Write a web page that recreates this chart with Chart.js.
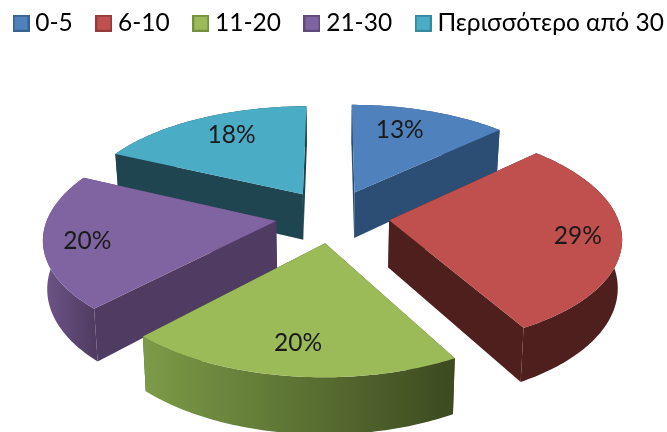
<!DOCTYPE html>
<html>
<head>
<meta charset="utf-8">
<style>
html,body{margin:0;padding:0;background:#fff;}
#box{width:667px;height:432px;}
</style>
<script src="https://cdn.jsdelivr.net/npm/chart.js@4/dist/chart.umd.min.js"></script>
</head>
<body>
<div id="box"><canvas id="c" width="667" height="432"></canvas></div>
<script>
// Chart content
const categories = ['0-5', '6-10', '11-20', '21-30', 'Περισσότερο από 30'];
const shares = [13, 29, 20, 20, 18];

// Colours of each slice: top face, legend border, radial walls, rim gradient
const topColors = ['#4f81bd', '#c0504d', '#9bbb59', '#8064a2', '#4bacc6'];
const edgeColors = ['#3a6291', '#943c3a', '#75903f', '#5f4a7a', '#358aa1'];
const wallColors = ['#2d4e74', '#4f1f1e', '#404f24', '#503c62', '#1f4650'];
const rimFrom = ['#2d4e74', '#4f1f1e', '#7c9b47', '#6e5589', '#1f4650'];
const rimTo = ['#2d4e74', '#4f1f1e', '#3c4a20', '#503c62', '#1f4650'];

// Pixel nudges for the percentage labels
const labelNudge = [[-15, 3], [8, 3], [0, 0], [-8, 4], [11, 1]];

// Perspective view of the exploded disc
const view = {cx: 332.5, cy: 216, radius: 228, explode: 57, distance: 1600, tilt: 0.466, depth: 47, baseScale: 0.985};
const FONT = '"Lato", "Open Sans", sans-serif';

function project(u, v, lowered) {
  const s = 1 / (1 - v / view.distance);
  const xs = lowered ? view.baseScale : 1;
  return {
    x: view.cx + u * s * xs,
    y: view.cy + view.tilt * v * s + (lowered ? view.depth * s : 0)
  };
}

function pathOf(ctx, pts) {
  ctx.beginPath();
  pts.forEach((p, i) => i ? ctx.lineTo(p.x, p.y) : ctx.moveTo(p.x, p.y));
  ctx.closePath();
}

// Draws the extruded slices from the angles the pie controller computed
const solidPie = {
  id: 'solidPie',
  beforeDatasetDraw(chart, args) {
    const ctx = chart.ctx;
    const arcs = chart.getDatasetMeta(args.index).data;
    const slices = arcs.map((arc, i) => {
      const mid = (arc.startAngle + arc.endAngle) / 2;
      const ox = view.explode * Math.cos(mid), oy = view.explode * Math.sin(mid);
      return {i, arc, mid, ox, oy};
    }).sort((a, b) => a.oy - b.oy);

    slices.forEach(({i, arc, ox, oy}) => {
      const rim = [];
      const steps = Math.ceil((arc.endAngle - arc.startAngle) / (Math.PI / 180));
      for (let k = 0; k <= steps; k++) {
        const a = arc.startAngle + (arc.endAngle - arc.startAngle) * k / steps;
        rim.push([ox + view.radius * Math.cos(a), oy + view.radius * Math.sin(a)]);
      }
      const first = rim[0], last = rim[rim.length - 1];
      const tip = [ox, oy];
      const meanV = list => list.reduce((t, p) => t + p[1], 0) / list.length;

      const walls = [
        {pts: [tip, first], fill: wallColors[i]},
        {pts: [tip, last], fill: wallColors[i]},
        {pts: rim, fill: 'rim'}
      ].sort((a, b) => meanV(a.pts) - meanV(b.pts));

      walls.forEach(w => {
        const up = w.pts.map(p => project(p[0], p[1], false));
        const down = w.pts.map(p => project(p[0], p[1], true)).reverse();
        pathOf(ctx, up.concat(down));
        if (w.fill === 'rim') {
          const xs = up.map(p => p.x);
          const g = ctx.createLinearGradient(Math.min(...xs), 0, Math.max(...xs), 0);
          g.addColorStop(0, rimFrom[i]);
          g.addColorStop(1, rimTo[i]);
          ctx.fillStyle = g;
        } else {
          ctx.fillStyle = w.fill;
        }
        ctx.fill();
      });

      const face = [tip].concat(rim).map(p => project(p[0], p[1], false));
      pathOf(ctx, face);
      ctx.fillStyle = topColors[i];
      ctx.fill();
    });

    // Percentage labels sit on the top faces
    ctx.font = '24.5px ' + FONT;
    ctx.fillStyle = '#1a1a1a';
    ctx.textAlign = 'center';
    ctx.textBaseline = 'middle';
    slices.forEach(({i, mid, ox, oy}) => {
      const r = view.radius * 0.78;
      const p = project(ox + r * Math.cos(mid), oy + r * Math.sin(mid), false);
      ctx.fillText(shares[i] + '%', p.x + labelNudge[i][0], p.y + labelNudge[i][1]);
    });
    return false;
  }
};

// Legend swatch with a darker border
function swatch(i) {
  const size = 17;
  const cv = document.createElement('canvas');
  cv.width = size; cv.height = size;
  const g = cv.getContext('2d');
  g.fillStyle = topColors[i];
  g.fillRect(0, 0, size, size);
  g.strokeStyle = edgeColors[i];
  g.lineWidth = 2;
  g.strokeRect(1, 1, size - 2, size - 2);
  return cv;
}

new Chart(document.getElementById('c'), {
  type: 'pie',
  data: {
    labels: categories,
    datasets: [{data: shares, backgroundColor: topColors, borderWidth: 0}]
  },
  plugins: [solidPie],
  options: {
    responsive: false,
    animation: false,
    events: [],
    layout: {padding: {left: -10, right: -90, top: -18, bottom: 0}},
    plugins: {
      tooltip: {enabled: false},
      legend: {
        display: true,
        position: 'top',
        align: 'start',
        labels: {
          usePointStyle: true,
          pointStyleWidth: 4,
          padding: 29,
          color: '#222222',
          font: {family: FONT, size: 24.5},
          generateLabels: () => categories.map((text, i) => ({
            text, index: i, pointStyle: swatch(i), fillStyle: topColors[i],
            strokeStyle: edgeColors[i], lineWidth: 0, hidden: false
          }))
        }
      }
    }
  }
});
</script>
</body>
</html>
